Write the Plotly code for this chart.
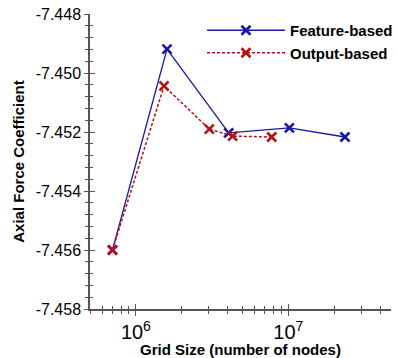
import plotly.graph_objects as go

feature_x = [7.02e5, 1.60e6, 4.06e6, 1.015e7, 2.35e7]
feature_y = [-7.4560, -7.44919, -7.45203, -7.45186, -7.45217]
output_x = [7.02e5, 1.53e6, 3.03e6, 4.31e6, 7.78e6]
output_y = [-7.4560, -7.45044, -7.45190, -7.45214, -7.45217]

y_tick_vals = [-7.458, -7.456, -7.454, -7.452, -7.450, -7.448]
y_tick_text = ["-7.458", "-7.456", "-7.454", "-7.452", "-7.450", "-7.448"]

x_range = [5.699, 7.673]
y_range = [-7.458, -7.448]

blue = "#1616aa"
red = "#b51212"
axis_col = "#555555"
font_fam = "Liberation Sans, Arial, Helvetica, sans-serif"

fig = go.Figure()
fig.add_trace(go.Scatter(
    x=feature_x, y=feature_y, mode="lines+markers", name="Feature-based",
    line=dict(color=blue, width=1.3),
    marker=dict(symbol="x-thin", size=9, line=dict(color=blue, width=2.6)),
))
fig.add_trace(go.Scatter(
    x=output_x, y=output_y, mode="lines+markers", name="Output-based",
    line=dict(color=red, width=1.5, dash="3px,2px"),
    marker=dict(symbol="x-thin", size=9, line=dict(color=red, width=2.6)),
))
# invisible trace to carry the inside-tick overlay axes
fig.add_trace(go.Scatter(
    x=feature_x, y=feature_y, xaxis="x2", yaxis="y2", mode="markers",
    marker=dict(opacity=0), showlegend=False, hoverinfo="skip",
))

tickfont = dict(family=font_fam, size=16, color="black")
titlefont = dict(family=font_fam, size=15, color="black", weight="bold")

fig.update_layout(
    width=398, height=358,
    margin=dict(l=90, r=0, t=14, b=49),
    paper_bgcolor="white", plot_bgcolor="white",
    font=dict(family=font_fam, color="black"),
    xaxis=dict(
        type="log", range=x_range, dtick=1, exponentformat="power",
        showgrid=False, zeroline=False,
        showline=True, linecolor=axis_col, linewidth=1.5,
        ticks="outside", ticklen=5, tickwidth=1.2, tickcolor=axis_col,
        minor=dict(dtick="D1", ticks="outside", ticklen=3, tickwidth=1.2,
                   tickcolor=axis_col, showgrid=False),
        tickfont=tickfont,
        title=dict(text="Grid Size (number of nodes)", font=titlefont, standoff=0),
    ),
    yaxis=dict(
        range=y_range, tickmode="array", tickvals=y_tick_vals, ticktext=y_tick_text,
        showgrid=False, zeroline=False,
        showline=True, linecolor=axis_col, linewidth=1.5,
        ticks="outside", ticklen=4, tickwidth=1.2, tickcolor=axis_col,
        minor=dict(dtick=0.0004, tick0=-7.458, ticks="outside", ticklen=3, tickwidth=1.2,
                   tickcolor=axis_col, showgrid=False),
        tickfont=tickfont,
        title=dict(text="Axial Force Coefficient", font=titlefont, standoff=7),
    ),
    xaxis2=dict(
        type="log", range=x_range, dtick=1, overlaying="x", anchor="y",
        showgrid=False, zeroline=False, showline=False, showticklabels=False,
        ticks="inside", ticklen=5, tickwidth=1.2, tickcolor=axis_col,
        minor=dict(dtick="D1", ticks="inside", ticklen=3, tickwidth=1.2,
                   tickcolor=axis_col, showgrid=False),
    ),
    yaxis2=dict(
        range=y_range, dtick=0.002, tick0=-7.458, overlaying="y", anchor="x", side="left",
        showgrid=False, zeroline=False, showline=False, showticklabels=False,
        ticks="inside", ticklen=5, tickwidth=1.2, tickcolor=axis_col,
        minor=dict(dtick=0.0004, tick0=-7.458, ticks="inside", ticklen=3, tickwidth=1.2,
                   tickcolor=axis_col, showgrid=False),
    ),
    showlegend=True,
    legend=dict(
        x=0.372, y=1.0, xanchor="left", yanchor="top",
        bgcolor="rgba(0,0,0,0)", borderwidth=0,
        font=dict(family=font_fam, size=15, color="black", weight="bold"),
        itemwidth=78,
    ),
)

fig.write_html("out.html")
